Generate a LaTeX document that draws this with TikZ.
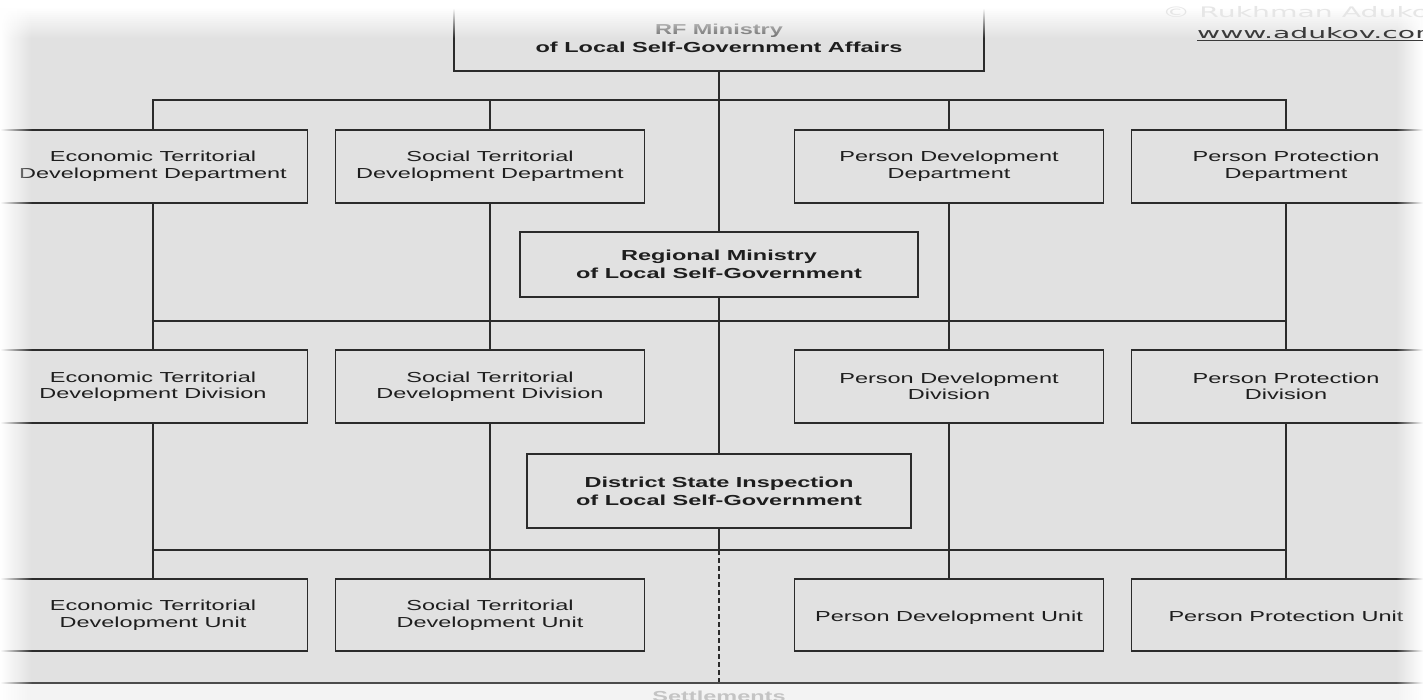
\documentclass[tikz,border=0pt]{standalone}
\usepackage{fontspec}
\setmainfont[FakeStretch=1.62]{Liberation Sans}
\newfontfamily\wmfont[FakeStretch=1.95]{DejaVu Sans}
\usetikzlibrary{fadings}
\definecolor{bggray}{HTML}{E1E1E1}
\definecolor{linec}{HTML}{2B2B2B}
\definecolor{txtc}{HTML}{1E1E1E}
\definecolor{rfgray}{HTML}{6A6A6A}
\definecolor{bottomc}{HTML}{F3F3F3}
\definecolor{settlec}{HTML}{C4C4C4}
\definecolor{wmlight}{HTML}{E6E6E6}
\definecolor{wmdark}{HTML}{3A3A3A}
\tikzfading[name=fadeFromLeft, left color=transparent!0, right color=transparent!100]
\tikzfading[name=fadeFromRight, left color=transparent!100, right color=transparent!0]
\tikzfading[name=fadeFromTop, top color=transparent!0, bottom color=transparent!100]
\begin{document}
\begin{tikzpicture}[x=1pt,y=-1pt,
  conn/.style={draw=linec, line width=1.2pt},
  unitbox/.style={draw=linec, line width=1.2pt, fill=bggray, minimum width=309pt, minimum height=73pt, align=center, inner sep=0pt, text=txtc, font=\fontsize{14.5}{16.5}\selectfont},
  headbox/.style={unitbox, font=\bfseries\fontsize{14.5}{18}\selectfont},
  headtext/.style={align=center, inner sep=0pt, text=txtc, font=\bfseries\fontsize{14.5}{18}\selectfont},
]
\useasboundingbox (0,0) rectangle (1423,700);
\clip (0,0) rectangle (1423,700);
\fill[bggray] (0,0) rectangle (1423,700);
\fill[bottomc] (0,683) rectangle (1423,700);

% top
\node[headbox, minimum width=530pt, minimum height=95pt] (rf) at (719,23.5) {};
\node[headtext] (rftext) at (719,38.5) {\textcolor{rfgray}{RF Ministry}\\of Local Self-Government Affairs};

% row 1
\node[unitbox] (ea1) at (153,166.5) {Economic Territorial\\Development Department};
\node[unitbox] (so1) at (490,166.5) {Social Territorial\\Development Department};
\node[unitbox] (pd1) at (949,166.5) {Person Development\\Department};
\node[unitbox] (pp1) at (1286,166.5) {Person Protection\\Department};

\node[headbox, minimum width=398pt, minimum height=65pt] (reg) at (719,264.5) {Regional Ministry\\of Local Self-Government};

% row 2
\node[unitbox] (ea2) at (153,386.5) {Economic Territorial\\Development Division};
\node[unitbox] (so2) at (490,386.5) {Social Territorial\\Development Division};
\node[unitbox] (pd2) at (949,386.5) {Person Development\\Division};
\node[unitbox] (pp2) at (1286,386.5) {Person Protection\\Division};

\node[headbox, minimum width=384pt, minimum height=74pt] (dis) at (719,491) {District State Inspection\\of Local Self-Government};

% row 3
\node[unitbox, minimum height=72pt] (ea3) at (153,615) {Economic Territorial\\Development Unit};
\node[unitbox, minimum height=72pt] (so3) at (490,615) {Social Territorial\\Development Unit};
\node[unitbox, minimum height=72pt] (pd3) at (949,615) {\raisebox{-3pt}[\height][\depth]{Person Development Unit}};
\node[unitbox, minimum height=72pt] (pp3) at (1286,615) {\raisebox{-3pt}[\height][\depth]{Person Protection Unit\vphantom{p}}};

% connectors
\coordinate (bus1) at (719,100);
\coordinate (bus2) at (719,321);
\coordinate (bus3) at (719,550);
\coordinate (setl) at (719,683);
\coordinate (bl) at (0,683);
\coordinate (br) at (1423,683);

\draw[conn] (rf.south) -- (reg.north);
\draw[conn] (reg.south) -- (dis.north);
\draw[conn] (dis.south) -- (bus3);
\draw[conn, dash pattern=on 5pt off 3pt] (bus3) -- (setl);

\draw[conn] (ea1.north) |- (bus1) -| (pp1.north);
\draw[conn] (so1.north) -- (so1.north |- bus1);
\draw[conn] (pd1.north) -- (pd1.north |- bus1);

\draw[conn] (ea1.south) -- (ea2.north);
\draw[conn] (so1.south) -- (so2.north);
\draw[conn] (pd1.south) -- (pd2.north);
\draw[conn] (pp1.south) -- (pp2.north);
\draw[conn] (ea1.south |- bus2) -- (pp1.south |- bus2);

\draw[conn] (ea2.south) -- (ea3.north);
\draw[conn] (so2.south) -- (so3.north);
\draw[conn] (pd2.south) -- (pd3.north);
\draw[conn] (pp2.south) -- (pp3.north);
\draw[conn] (ea2.south |- bus3) -- (pp2.south |- bus3);

\draw[draw=linec!85, line width=1.2pt] (bl) -- (br);
\node[anchor=base, inner sep=0pt, text=settlec, font=\bfseries\fontsize{14.5}{16}\selectfont] (settl) at (719,701) {Settlements};

% soft edges
\fill[white] (0,0) rectangle (1423,8);
\fill[white, path fading=fadeFromTop] (0,8) rectangle (1423,38);
\fill[white, path fading=fadeFromLeft] (0,0) rectangle (32,700);
\fill[white, path fading=fadeFromRight] (1396,0) rectangle (1423,700);

% watermark
\node[anchor=base west, inner sep=0pt, text=wmlight, font=\wmfont\fontsize{14.5}{16}\selectfont] (copy) at (1162,18) {© Rukhman Adukov};
\node[anchor=base west, inner sep=0pt, text=wmdark, font=\wmfont\fontsize{14.5}{16}\selectfont] (url) at (1197,39) {\underline{www.adukov.com}};
\end{tikzpicture}
\end{document}
